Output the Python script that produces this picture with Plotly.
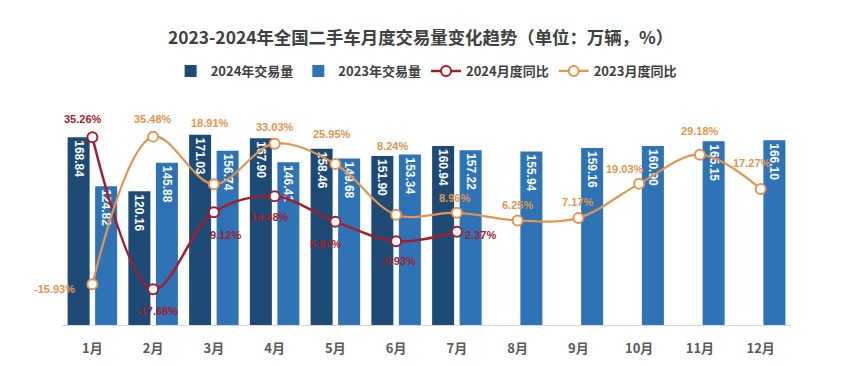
import plotly.graph_objects as go

months = ["1月", "2月", "3月", "4月", "5月", "6月", "7月", "8月", "9月", "10月", "11月", "12月"]
vol_2024 = [168.84, 120.16, 171.03, 167.90, 158.46, 151.90, 160.94, None, None, None, None, None]
vol_2023 = [124.82, 145.88, 156.74, 146.41, 149.68, 153.34, 157.22, 155.94, 159.16, 160.90, 165.15, 166.10]
yoy_2024 = [35.26, -17.68, 9.12, 14.68, 5.87, -0.93, 2.37, None, None, None, None, None]
yoy_2023 = [-15.93, 35.48, 18.91, 33.03, 25.95, 8.24, 8.96, 6.25, 7.17, 19.03, 29.18, 17.27]

# label offsets in pixels (dx, dy-up) for percentage labels
off_2024 = [(-9, 18), (4, -22), (12, -23), (-5, -21), (-10, -22), (2, -20), (24, -3)]
off_2023 = [(-38, -5), (0, 18), (-4, 61), (0, 17), (-3, 30), (-4, 69), (-2, 15),
            (0, 16), (-1, 16), (-14, 15), (0, 24), (-9, 26)]

C_DARK = "#1D4B76"
C_LIGHT = "#2D73B5"
C_RED = "#A41D2B"
C_ORANGE = "#E3944E"
CJK = "Noto Sans CJK SC"
NUM = "Liberation Sans, Arial, sans-serif"

fig = go.Figure()
fig.add_trace(go.Bar(
    x=months, y=vol_2024, name="2024年交易量", marker=dict(color=C_DARK, line=dict(width=0)),
    text=[f"{v:.2f}" if v is not None else "" for v in vol_2024],
    textposition="inside", insidetextanchor="end", textangle=90, constraintext="none",
    textfont=dict(family=NUM, size=12, color="white", weight="bold"),
))
fig.add_trace(go.Bar(
    x=months, y=vol_2023, name="2023年交易量", marker=dict(color=C_LIGHT, line=dict(width=0)),
    text=[f"{v:.2f}" for v in vol_2023],
    textposition="inside", insidetextanchor="end", textangle=90, constraintext="none",
    textfont=dict(family=NUM, size=12, color="white", weight="bold"),
))
fig.add_trace(go.Scatter(
    x=months, y=yoy_2024, name="2024月度同比", yaxis="y2", mode="lines+markers",
    line=dict(color=C_RED, width=2.5, shape="spline", smoothing=1.0),
    marker=dict(size=10, color="white", line=dict(color=C_RED, width=2)),
))
fig.add_trace(go.Scatter(
    x=months, y=yoy_2023, name="2023月度同比", yaxis="y2", mode="lines+markers",
    line=dict(color=C_ORANGE, width=2.2, shape="spline", smoothing=1.0),
    marker=dict(size=10, color="white", line=dict(color=C_ORANGE, width=2)),
))

annotations = []
for m, v, (dx, dy) in zip(months, yoy_2024, off_2024):
    annotations.append(dict(x=m, y=v, xref="x", yref="y2", text=f"{v:.2f}%", showarrow=False,
                            xshift=dx, yshift=dy,
                            font=dict(family=NUM, size=11, color=C_RED, weight="bold")))
for m, v, (dx, dy) in zip(months, yoy_2023, off_2023):
    annotations.append(dict(x=m, y=v, xref="x", yref="y2", text=f"{v:.2f}%", showarrow=False,
                            xshift=dx, yshift=dy,
                            font=dict(family=NUM, size=11, color=C_ORANGE, weight="bold")))

fig.update_layout(
    width=839, height=358,
    margin=dict(l=54, r=56, t=92, b=41, autoexpand=False),
    paper_bgcolor="white", plot_bgcolor="white",
    barmode="group", bargap=0.094, bargroupgap=0.2,
    title=dict(text="<b>2023-2024年全国二手车月度交易量变化趋势（单位：万辆，%）</b>",
               x=0.4917, xanchor="center", y=1 - 30 / 358, yanchor="middle",
               font=dict(family=CJK, size=17.4, color="#404040")),
    legend=dict(orientation="h", x=0.4995, xanchor="center", y=1 + 29 / 225, yanchor="middle",
                font=dict(family=CJK, size=13, color="#404040", weight="bold"),
                itemwidth=30, bgcolor="rgba(0,0,0,0)"),
    xaxis=dict(range=[-0.5, 11.5], autorange=False, showgrid=False, showline=True,
               linecolor="#D9D9D9", linewidth=1, ticks="", automargin=False,
               ticklabelstandoff=11,
               tickfont=dict(family=CJK, size=13, color="#595959", weight="bold")),
    yaxis=dict(range=[0, 202.3], autorange=False, showgrid=False, showticklabels=False,
               zeroline=False, showline=False, automargin=False),
    yaxis2=dict(range=[-30.13, 48.24], autorange=False, overlaying="y", side="right",
                showgrid=False, showticklabels=False, zeroline=False, showline=False,
                automargin=False),
    annotations=annotations,
    showlegend=True,
)

fig.write_html("out.html")
